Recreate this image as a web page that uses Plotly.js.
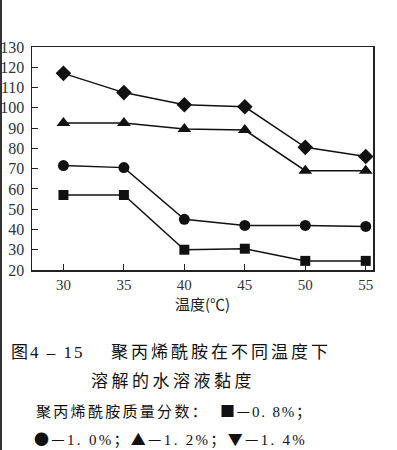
<!DOCTYPE html>
<html>
<head>
<meta charset="utf-8">
<script src="https://cdn.plot.ly/plotly-3.0.1.min.js"></script>
<style>
html,body{margin:0;padding:0;background:#fff;}
#wrap{position:relative;width:397px;height:450px;}
#edge{position:absolute;left:0;top:0;width:2px;height:450px;background:#333;z-index:10;}
#chart{width:397px;height:450px;}
</style>
</head>
<body>
<div id="wrap"><div id="edge"></div><div id="chart"></div></div>
<script>
const temps = [30, 35, 40, 45, 50, 55];
const s08 = [57, 57, 30, 30.5, 24.5, 24.5];
const s10 = [71.5, 70.5, 45, 42, 42, 41.5];
const s12 = [92.5, 92.5, 89.5, 89, 69, 69];
const s14 = [117, 107.5, 101.5, 100.5, 80.5, 76];
const yTicks = [20, 30, 40, 50, 60, 70, 80, 90, 100, 110, 120, 130];
const xTicks = [30, 35, 40, 45, 50, 55];
const seriesNames = ['0.8%', '1.0%', '1.2%', '1.4%'];

const serif = '"Liberation Serif", "DejaVu Serif", serif';
const cjk = '"Noto Sans CJK SC", "Liberation Serif", serif';

function tr(y, sym, size, name) {
  return {
    x: temps, y: y, name: name, type: 'scatter', mode: 'lines+markers',
    line: {color: '#111', width: 1.5},
    marker: {symbol: sym, size: size, color: '#111'},
    cliponaxis: false
  };
}
const data = [
  tr(s08, 'square', 10, seriesNames[0]),
  tr(s10, 'circle', 11, seriesNames[1]),
  tr(s12, 'triangle-up', 12, seriesNames[2]),
  tr(s14, 'diamond', 12, seriesNames[3])
];

const L = 32, R = 373, T = 47, B = 270;
function px(x) { return (x - L) / (R - L); }
function py(y) { return (B - y) / (B - T); }
function ann(text, x, y, size, ls) {
  return {text: '<span style="letter-spacing:' + ls + 'px">' + text + '</span>',
    x: px(x), y: py(y), xref: 'paper', yref: 'paper',
    xanchor: 'left', yanchor: 'middle', showarrow: false,
    font: {family: cjk, size: size, color: '#111'}};
}
function num(t) { return '<span style="font-family:\'Liberation Serif\',serif">' + t + '</span>'; }

const layout = {
  width: 397, height: 450,
  margin: {l: L, r: 397 - R, t: T, b: 450 - B, pad: 0},
  paper_bgcolor: '#fff', plot_bgcolor: '#fff',
  showlegend: false,
  xaxis: {
    range: [27.4, 55.6], tickvals: xTicks, ticktext: xTicks.map(String),
    ticks: 'inside', ticklen: 6, tickcolor: '#222', tickwidth: 1,
    showline: true, linecolor: '#222', linewidth: 1.5, mirror: true,
    showgrid: false, zeroline: false,
    tickfont: {family: serif, size: 15, color: '#333'},
    title: {text: '温度(℃)', font: {family: cjk, size: 15, color: '#222'}, standoff: 4}
  },
  yaxis: {
    range: [20, 130], tickvals: yTicks, ticktext: yTicks.map(String),
    ticks: 'inside', ticklen: 6, tickcolor: '#222', tickwidth: 1,
    showline: true, linecolor: '#222', linewidth: 1.5, mirror: true,
    showgrid: false, zeroline: false, ticklabelstandoff: 3,
    tickfont: {family: serif, size: 16, color: '#333'}
  },
  annotations: [
    ann('图' + num('4 – 15'), 9, 350, 17, 2),
    ann('聚丙烯酰胺在不同温度下', 109, 350, 17, 3),
    ann('溶解的水溶液黏度', 89, 379, 17, 3.5),
    ann('聚丙烯酰胺质量分数：', 34, 410, 15, 2.3),
    ann('■—' + num('0. 8%') + '；', 218, 410, 15, 1.8),
    ann('●—' + num('1. 0%') + '；▲—' + num('1. 2%') + '；▼—' + num('1. 4%'), 32, 438, 15, 2.3)
  ]
};
Plotly.newPlot('chart', data, layout, {staticPlot: true, displayModeBar: false});
</script>
</body>
</html>
